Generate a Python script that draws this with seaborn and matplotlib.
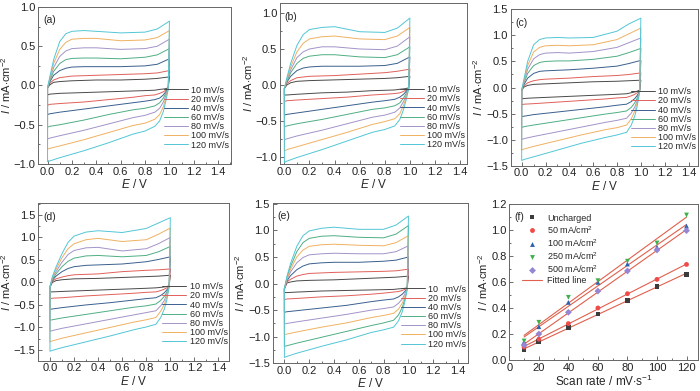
import numpy as np
import pandas as pd
import matplotlib
matplotlib.use('Agg')
import matplotlib.pyplot as plt
from matplotlib.lines import Line2D
from matplotlib.ticker import MultipleLocator
import seaborn as sns

# scan rates and legend text for the CV panels
RATES = [10, 20, 40, 60, 80, 100, 120]
RATE_LABELS = ['10 mV/s', '20 mV/s', '40 mV/s', '60 mV/s', '80 mV/s', '100 mV/s', '120 mV/s']
RATE_LABELS_E = ['10   mV/s', '20 mV/s', '40 mV/s', '60 mV/s', '80 mV/s', '100 mV/s', '120 mV/s']
COLORS = ['#4a4a4a', '#e0605a', '#3a5f8e', '#4fae84', '#a393c9', '#f0b162', '#52c6d6']

# potentials of the read points (anodic sweep, then cathodic sweep)
E_UP = [0.0, 0.02, 0.05, 0.1, 0.15, 0.2, 0.3, 0.4, 0.6, 0.8, 0.9, 1.0]
E_DN = [0.99, 0.97, 0.95, 0.92, 0.88, 0.8, 0.7, 0.5, 0.3, 0.1, 0.02, 0.0]

# (a) current density, one row per scan rate
A_UP = [
    [-0.03, 0.01, 0.04, 0.05, 0.055, 0.06, 0.065, 0.07, 0.07, 0.08, 0.09, 0.11],
    [-0.03, 0.03, 0.07, 0.10, 0.11, 0.12, 0.125, 0.13, 0.14, 0.15, 0.16, 0.19],
    [-0.03, 0.05, 0.13, 0.19, 0.22, 0.235, 0.24, 0.24, 0.24, 0.25, 0.27, 0.34],
    [-0.03, 0.07, 0.18, 0.28, 0.33, 0.345, 0.35, 0.35, 0.34, 0.36, 0.39, 0.47],
    [-0.03, 0.09, 0.23, 0.37, 0.44, 0.47, 0.48, 0.48, 0.46, 0.47, 0.50, 0.59],
    [-0.03, 0.10, 0.28, 0.46, 0.55, 0.59, 0.60, 0.60, 0.57, 0.58, 0.61, 0.70],
    [-0.03, 0.12, 0.33, 0.56, 0.66, 0.69, 0.70, 0.69, 0.67, 0.68, 0.72, 0.82],
]
A_DN = [
    [-0.03, -0.04, -0.045, -0.05, -0.06, -0.065, -0.07, -0.08, -0.09, -0.10, -0.11, -0.12],
    [-0.04, -0.06, -0.08, -0.10, -0.12, -0.13, -0.15, -0.18, -0.21, -0.23, -0.24, -0.25],
    [-0.04, -0.08, -0.12, -0.16, -0.18, -0.20, -0.22, -0.26, -0.30, -0.34, -0.36, -0.37],
    [-0.04, -0.10, -0.16, -0.22, -0.26, -0.29, -0.31, -0.37, -0.44, -0.50, -0.52, -0.53],
    [-0.04, -0.13, -0.21, -0.29, -0.34, -0.38, -0.41, -0.49, -0.57, -0.64, -0.67, -0.68],
    [-0.04, -0.16, -0.27, -0.37, -0.43, -0.48, -0.51, -0.60, -0.69, -0.77, -0.80, -0.81],
    [-0.05, -0.20, -0.33, -0.45, -0.52, -0.58, -0.62, -0.73, -0.83, -0.92, -0.96, -0.97],
]

# (b)
B_UP = [
    [-0.05, 0.00, 0.03, 0.05, 0.055, 0.06, 0.065, 0.07, 0.08, 0.09, 0.10, 0.12],
    [-0.05, 0.02, 0.06, 0.10, 0.11, 0.12, 0.125, 0.13, 0.15, 0.17, 0.19, 0.22],
    [-0.05, 0.04, 0.12, 0.20, 0.235, 0.25, 0.26, 0.26, 0.26, 0.27, 0.30, 0.39],
    [-0.05, 0.05, 0.17, 0.30, 0.37, 0.40, 0.42, 0.42, 0.39, 0.38, 0.42, 0.53],
    [-0.05, 0.07, 0.21, 0.38, 0.46, 0.50, 0.53, 0.53, 0.50, 0.49, 0.54, 0.67],
    [-0.05, 0.08, 0.25, 0.46, 0.58, 0.64, 0.67, 0.68, 0.64, 0.63, 0.68, 0.80],
    [-0.05, 0.10, 0.30, 0.55, 0.70, 0.77, 0.80, 0.81, 0.74, 0.73, 0.79, 0.93],
]
B_DN = [
    [-0.04, -0.05, -0.055, -0.06, -0.07, -0.075, -0.08, -0.10, -0.11, -0.13, -0.14, -0.14],
    [-0.05, -0.07, -0.09, -0.11, -0.12, -0.13, -0.14, -0.17, -0.19, -0.21, -0.22, -0.23],
    [-0.05, -0.09, -0.13, -0.17, -0.20, -0.22, -0.24, -0.29, -0.34, -0.39, -0.41, -0.42],
    [-0.05, -0.12, -0.18, -0.25, -0.29, -0.32, -0.34, -0.41, -0.48, -0.54, -0.57, -0.58],
    [-0.06, -0.15, -0.23, -0.32, -0.38, -0.42, -0.45, -0.54, -0.63, -0.71, -0.75, -0.76],
    [-0.06, -0.18, -0.28, -0.40, -0.47, -0.51, -0.55, -0.66, -0.76, -0.86, -0.90, -0.92],
    [-0.06, -0.21, -0.34, -0.48, -0.57, -0.62, -0.66, -0.78, -0.90, -1.01, -1.06, -1.08],
]

# (c)
C_UP = [
    [-0.05, 0.01, 0.04, 0.06, 0.065, 0.07, 0.08, 0.09, 0.11, 0.12, 0.13, 0.14],
    [-0.05, 0.03, 0.09, 0.13, 0.15, 0.16, 0.17, 0.18, 0.21, 0.23, 0.25, 0.28],
    [-0.05, 0.06, 0.18, 0.27, 0.31, 0.32, 0.33, 0.34, 0.37, 0.41, 0.46, 0.52],
    [-0.05, 0.09, 0.27, 0.42, 0.48, 0.50, 0.51, 0.51, 0.54, 0.60, 0.67, 0.75],
    [-0.05, 0.11, 0.35, 0.55, 0.63, 0.66, 0.67, 0.66, 0.69, 0.77, 0.86, 0.95],
    [-0.05, 0.14, 0.42, 0.68, 0.77, 0.80, 0.81, 0.80, 0.82, 0.92, 1.03, 1.14],
    [-0.05, 0.17, 0.50, 0.82, 0.92, 0.95, 0.96, 0.95, 0.96, 1.08, 1.22, 1.33],
]
C_DN = [
    [-0.05, -0.07, -0.085, -0.10, -0.12, -0.13, -0.14, -0.16, -0.18, -0.20, -0.21, -0.22],
    [-0.06, -0.10, -0.13, -0.16, -0.19, -0.20, -0.22, -0.25, -0.28, -0.31, -0.32, -0.33],
    [-0.07, -0.15, -0.21, -0.27, -0.32, -0.34, -0.37, -0.42, -0.47, -0.52, -0.55, -0.56],
    [-0.07, -0.20, -0.29, -0.38, -0.45, -0.48, -0.51, -0.58, -0.65, -0.72, -0.75, -0.77],
    [-0.08, -0.25, -0.37, -0.49, -0.59, -0.63, -0.67, -0.76, -0.85, -0.94, -0.98, -1.00],
    [-0.08, -0.30, -0.45, -0.60, -0.72, -0.77, -0.81, -0.91, -1.02, -1.13, -1.18, -1.20],
    [-0.08, -0.35, -0.54, -0.72, -0.86, -0.91, -0.96, -1.07, -1.20, -1.33, -1.38, -1.40],
]

# (d)
D_UP = [
    [-0.10, 0.00, 0.04, 0.06, 0.07, 0.08, 0.085, 0.09, 0.11, 0.13, 0.14, 0.16],
    [-0.10, 0.03, 0.08, 0.12, 0.15, 0.17, 0.18, 0.19, 0.24, 0.27, 0.28, 0.30],
    [-0.10, 0.05, 0.14, 0.24, 0.31, 0.35, 0.38, 0.39, 0.41, 0.46, 0.51, 0.57],
    [-0.10, 0.07, 0.19, 0.35, 0.47, 0.54, 0.59, 0.60, 0.57, 0.60, 0.68, 0.80],
    [-0.10, 0.09, 0.24, 0.45, 0.62, 0.71, 0.77, 0.78, 0.70, 0.75, 0.86, 1.00],
    [-0.10, 0.11, 0.29, 0.55, 0.75, 0.86, 0.95, 0.98, 0.91, 0.95, 1.07, 1.21],
    [-0.10, 0.13, 0.34, 0.64, 0.89, 1.03, 1.12, 1.15, 1.11, 1.20, 1.32, 1.44],
]
D_DN = [
    [-0.08, -0.09, -0.10, -0.11, -0.12, -0.13, -0.14, -0.16, -0.18, -0.20, -0.21, -0.21],
    [-0.09, -0.12, -0.15, -0.18, -0.21, -0.22, -0.24, -0.27, -0.30, -0.34, -0.35, -0.36],
    [-0.10, -0.17, -0.23, -0.29, -0.34, -0.36, -0.39, -0.45, -0.50, -0.56, -0.59, -0.60],
    [-0.10, -0.22, -0.31, -0.40, -0.48, -0.52, -0.55, -0.63, -0.71, -0.79, -0.83, -0.84],
    [-0.10, -0.27, -0.40, -0.52, -0.63, -0.67, -0.72, -0.82, -0.92, -1.02, -1.07, -1.09],
    [-0.10, -0.33, -0.49, -0.64, -0.78, -0.83, -0.88, -1.00, -1.12, -1.24, -1.30, -1.32],
    [-0.10, -0.40, -0.59, -0.78, -0.93, -0.99, -1.05, -1.19, -1.32, -1.45, -1.51, -1.53],
]

# (e)  (the 60 mV/s trace sits between 100 and 120 in the original)
E_UP_I = [
    [-0.10, 0.01, 0.03, 0.05, 0.055, 0.06, 0.065, 0.07, 0.09, 0.11, 0.12, 0.14],
    [-0.10, 0.03, 0.08, 0.14, 0.17, 0.19, 0.20, 0.21, 0.22, 0.23, 0.24, 0.27],
    [-0.10, 0.05, 0.15, 0.26, 0.33, 0.37, 0.39, 0.40, 0.40, 0.42, 0.44, 0.50],
    [-0.10, 0.11, 0.32, 0.60, 0.77, 0.85, 0.89, 0.90, 0.87, 0.86, 0.93, 1.09],
    [-0.10, 0.08, 0.22, 0.39, 0.49, 0.54, 0.56, 0.57, 0.56, 0.56, 0.60, 0.71],
    [-0.10, 0.09, 0.27, 0.50, 0.63, 0.70, 0.73, 0.74, 0.72, 0.71, 0.77, 0.90],
    [-0.10, 0.13, 0.38, 0.70, 0.90, 0.99, 1.04, 1.06, 1.02, 1.02, 1.10, 1.27],
]
E_DN_I = [
    [-0.08, -0.09, -0.095, -0.10, -0.11, -0.115, -0.12, -0.13, -0.14, -0.16, -0.17, -0.17],
    [-0.09, -0.11, -0.13, -0.15, -0.16, -0.18, -0.20, -0.23, -0.25, -0.28, -0.29, -0.30],
    [-0.10, -0.15, -0.20, -0.25, -0.29, -0.31, -0.34, -0.41, -0.46, -0.51, -0.53, -0.54],
    [-0.10, -0.30, -0.45, -0.59, -0.69, -0.74, -0.79, -0.90, -1.01, -1.12, -1.17, -1.18],
    [-0.10, -0.20, -0.29, -0.37, -0.44, -0.47, -0.50, -0.58, -0.65, -0.72, -0.75, -0.76],
    [-0.10, -0.25, -0.37, -0.48, -0.56, -0.60, -0.64, -0.74, -0.82, -0.91, -0.95, -0.96],
    [-0.10, -0.35, -0.53, -0.70, -0.82, -0.87, -0.92, -1.06, -1.18, -1.31, -1.37, -1.39],
]

# (f) current vs scan rate
SCAN = [10, 20, 40, 60, 80, 100, 120]
GROUPS = ['Uncharged', '50 mA/cm$^2$', '100 mA/cm$^2$', '250 mA/cm$^2$', '500 mA/cm$^2$']
I_UNCH = [0.077, 0.14, 0.25, 0.354, 0.46, 0.564, 0.66]
I_50 = [0.10, 0.16, 0.28, 0.40, 0.51, 0.62, 0.735]
I_100 = [0.14, 0.256, 0.443, 0.597, 0.738, 0.867, 1.03]
I_250 = [0.146, 0.29, 0.482, 0.61, 0.76, 0.90, 1.115]
I_500 = [0.115, 0.20, 0.367, 0.53, 0.685, 0.846, 0.995]
F_COLORS = ['#3c3c3c', '#f04a4a', '#2a62ae', '#3fb04a', '#9486d2']
F_MARKERS = ['s', 'o', '^', 'v', 'D']
FIT_COLOR = '#e0604c'

sns.set_theme(style='ticks')
plt.rcParams['font.family'] = ['Liberation Sans', 'DejaVu Sans']
plt.rcParams['mathtext.fontset'] = 'custom'
plt.rcParams['mathtext.rm'] = 'Liberation Sans'
plt.rcParams['mathtext.it'] = 'Liberation Sans:italic'
plt.rcParams['axes.edgecolor'] = '#666666'
plt.rcParams['axes.linewidth'] = 0.7

YLABEL = r'$I$ / mA$\cdot$cm$^{-2}$'


def loop_frame(up, dn):
    rows = []
    for rate, u, d in zip(RATES, up, dn):
        e = E_UP + E_DN + [0.0]
        cur = u + d + [u[0]]
        for x, y in zip(e, cur):
            rows.append({'rate': rate, 'E': x, 'I': y})
    return pd.DataFrame(rows)


def style_axes(ax):
    ax.tick_params(which='both', direction='in', colors='#555555', labelcolor='#222222',
                   labelsize=8, pad=2, width=0.6)
    ax.tick_params(which='major', length=3)
    ax.tick_params(which='minor', length=1.6)


fig = plt.figure(figsize=(7, 3.91), dpi=100)

panels = [
    ('(a)', A_UP, A_DN, [0.0547, 0.5806, 0.2753, 0.4015], (-0.076, 1.505), (-1.0, 1.0), RATE_LABELS),
    ('(b)', B_UP, B_DN, [0.4000, 0.5806, 0.2671, 0.4118], (-0.035, 1.455), (-1.10, 1.14), RATE_LABELS),
    ('(c)', C_UP, C_DN, [0.7296, 0.5762, 0.2676, 0.4000], (-0.092, 1.48), (-1.5, 1.5), RATE_LABELS),
    ('(d)', D_UP, D_DN, [0.0547, 0.0775, 0.2729, 0.4026], (-0.097, 1.49), (-1.74, 1.76), RATE_LABELS),
    ('(e)', E_UP_I, E_DN_I, [0.3896, 0.0708, 0.2790, 0.4107], (-0.094, 1.48), (-1.5, 1.52), RATE_LABELS_E),
]

for letter, up, dn, pos, xlim, ylim, labels in panels:
    ax = fig.add_axes(pos)
    df = loop_frame(up, dn)
    sns.lineplot(data=df, x='E', y='I', hue='rate', palette=dict(zip(RATES, COLORS)),
                 sort=False, estimator=None, lw=0.7, legend=False, ax=ax)
    ax.set_xlim(*xlim)
    ax.set_ylim(*ylim)
    ax.xaxis.set_major_locator(MultipleLocator(0.2))
    ax.xaxis.set_minor_locator(MultipleLocator(0.1))
    ax.yaxis.set_major_locator(MultipleLocator(0.5))
    ax.yaxis.set_minor_locator(MultipleLocator(0.25))
    style_axes(ax)
    ax.set_xlabel(r'$E$ / V', fontsize=8.5, labelpad=1)
    ax.set_ylabel(YLABEL, fontsize=8, labelpad=0.5)
    ax.text(0.025, 0.915, letter, transform=ax.transAxes, va='center', ha='left', fontsize=7.5)
    ax.legend(ax.lines[:7], labels, loc='lower right', bbox_to_anchor=(1.0, 0.08),
              frameon=False, fontsize=6.5, handlelength=2.6, handletextpad=0.4,
              labelspacing=0.02, borderaxespad=0, borderpad=0.2)

# (f)
ax = fig.add_axes([0.7276, 0.0793, 0.2700, 0.3990])
series = [I_UNCH, I_50, I_100, I_250, I_500]
fdf = pd.DataFrame([{'group': g, 'rate': r, 'I': v}
                    for g, vals in zip(GROUPS, series) for r, v in zip(SCAN, vals)])
for vals in series:
    sns.regplot(x=SCAN, y=vals, scatter=False, ci=None, truncate=True, color=FIT_COLOR,
                line_kws={'lw': 0.8}, ax=ax)
sns.scatterplot(data=fdf, x='rate', y='I', hue='group', style='group',
                palette=dict(zip(GROUPS, F_COLORS)), markers=dict(zip(GROUPS, F_MARKERS)),
                s=12, edgecolor='none', legend=False, ax=ax, zorder=3)
ax.set_xlim(0, 128)
ax.set_ylim(0, 1.2)
ax.xaxis.set_major_locator(MultipleLocator(20))
ax.xaxis.set_minor_locator(MultipleLocator(10))
ax.yaxis.set_major_locator(MultipleLocator(0.2))
ax.yaxis.set_minor_locator(MultipleLocator(0.1))
style_axes(ax)
ax.set_xlabel(r'Scan rate / mV$\cdot$s$^{-1}$', fontsize=8.5, labelpad=1)
ax.set_ylabel(YLABEL, fontsize=8, labelpad=0.5)
ax.text(0.025, 0.915, '(f)', transform=ax.transAxes, va='center', ha='left', fontsize=7.5)
handles = [Line2D([], [], ls='none', marker=m, color=c, markersize=3.5, markeredgewidth=0)
           for m, c in zip(F_MARKERS, F_COLORS)]
handles.append(Line2D([], [], color=FIT_COLOR, lw=0.8))
ax.legend(handles, GROUPS + ['Fitted line'], loc='upper left', bbox_to_anchor=(0.06, 0.95),
          frameon=False, fontsize=6.5, handlelength=2.2, handletextpad=0.5,
          labelspacing=0.15, borderaxespad=0, borderpad=0.2)

fig.savefig('out.png', dpi=100)
plt.close()
